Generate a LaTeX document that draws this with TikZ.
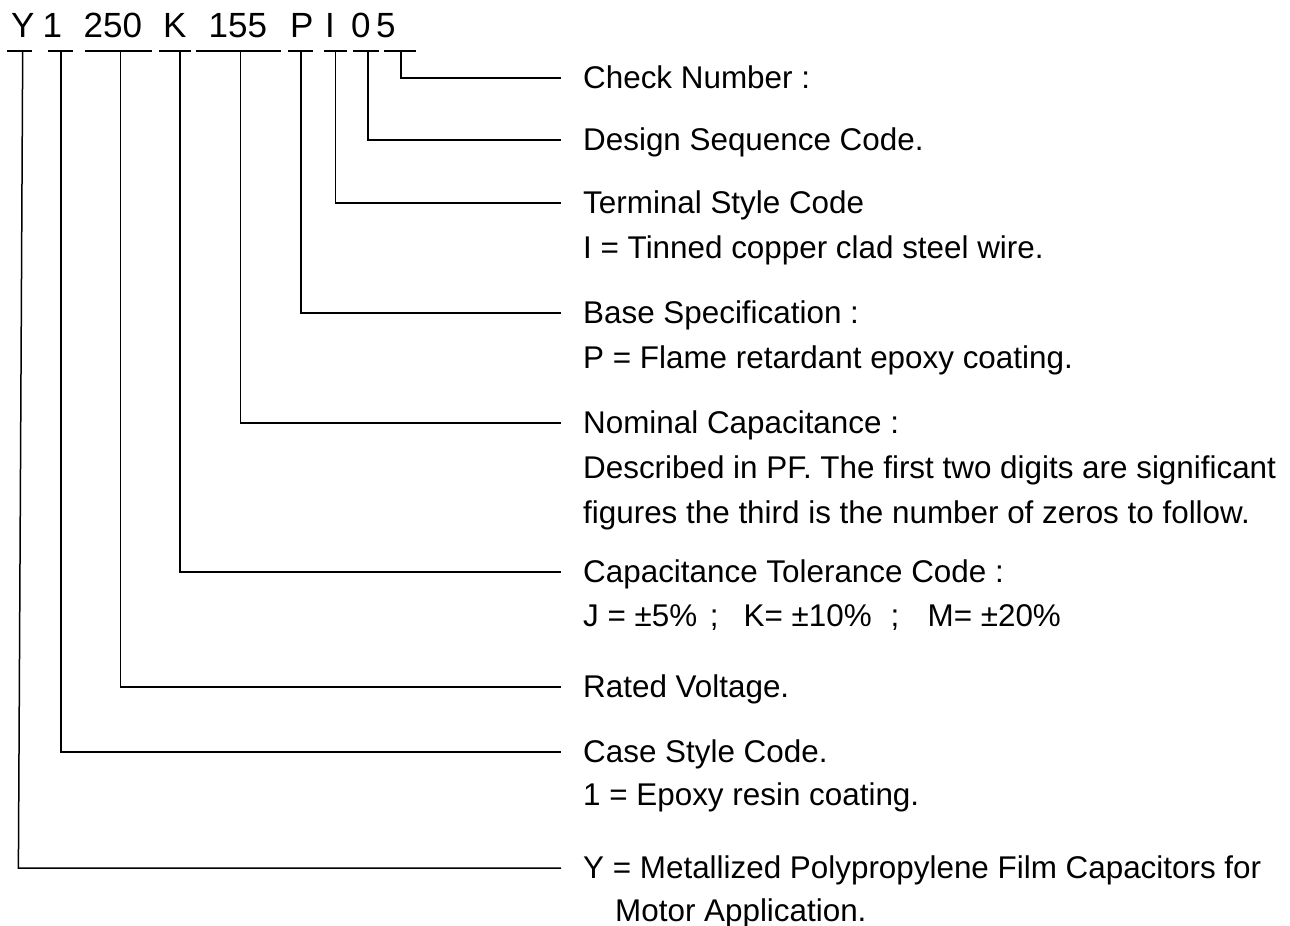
\documentclass[tikz,border=0pt]{standalone}
\usepackage{fontspec}
\setmainfont{Liberation Sans}
\begin{document}
\begin{tikzpicture}[x=1pt,y=-1pt,
  ln/.style={line width=1.5pt,line cap=butt},
  hd/.style={inner sep=0pt,anchor=base west,font=\fontsize{35}{40}\selectfont},
  lb/.style={inner sep=0pt,anchor=base west,font=\fontsize{31.4}{36}\selectfont}]
\useasboundingbox (0,0) rectangle (1290,926);
% header glyphs
\node[hd] (hY) at (11,37) {Y};
\node[hd] (h1) at (42.5,37) {1};
\node[hd] (h250) at (83.5,37) {250};
\node[hd] (hK) at (163,37) {K};
\node[hd] (h155) at (208.5,37) {155};
\node[hd] (hP) at (290,37) {P};
\node[hd] (hI) at (325,37) {I};
\node[hd] (h0) at (351,37) {0};
\node[hd] (h5) at (376,37) {5};
% underline segments
\foreach \a/\b in {7/32,48/73,85/152,159/191,196/281,288/313,324/347,353/379,384/416}
  \draw[ln] (\a,51) -- (\b,51);
% segment anchor points
\coordinate (sY) at (22.7,51);
\coordinate (s1) at (61,51);
\coordinate (s250) at (120.7,51);
\coordinate (sK) at (180,51);
\coordinate (s155) at (240.7,51);
\coordinate (sP) at (301,51);
\coordinate (sI) at (335.5,51);
\coordinate (s0) at (368,51);
\coordinate (s5) at (401,51);
% line end points
\coordinate (e5) at (561,78);
\coordinate (e0) at (561,140);
\coordinate (eI) at (561,203);
\coordinate (eP) at (561,313);
\coordinate (e155) at (561,423);
\coordinate (eK) at (561,572);
\coordinate (e250) at (561,687);
\coordinate (e1) at (561,752);
\coordinate (eY) at (561,868);
\coordinate (kY) at (18.4,868);
% connectors
\draw[ln] (s5) |- (e5);
\draw[ln] (s0) |- (e0);
\draw[ln] (sI) |- (eI);
\draw[ln] (sP) |- (eP);
\draw[ln] (s155) |- (e155);
\draw[ln] (sK) |- (eK);
\draw[ln] (s250) |- (e250);
\draw[ln] (s1) |- (e1);
\draw[ln] (sY) -- (kY) -- (eY);
% labels
\node[lb] (l5) at (583,88) {Check Number :};
\node[lb] (l0) at (583,150) {Design Sequence Code.};
\node[lb] (lI) at (583,213) {Terminal Style Code};
\node[lb] (lIb) at (583,258) {I = Tinned copper clad steel wire.};
\node[lb] (lP) at (583,323) {Base Specification :};
\node[lb] (lPb) at (583,368) {P = Flame retardant epoxy coating.};
\node[lb] (l155) at (583,433) {Nominal Capacitance :};
\node[lb] (l155b) at (583,478) {Described in PF. The first two digits are significant};
\node[lb] (l155c) at (583,523) {figures the third is the number of zeros to follow.};
\node[lb] (lK) at (583,582) {Capacitance Tolerance Code :};
\node[lb] (lKb) at (583,626) {J = ±5\%\hspace{0.4em};\hspace{0.8em}K= ±10\%\hspace{0.6em};\hspace{0.9em}M= ±20\%};
\node[lb] (l250) at (583,697) {Rated Voltage.};
\node[lb] (l1) at (583,762) {Case Style Code.};
\node[lb] (l1b) at (583,805) {1 = Epoxy resin coating.};
\node[lb] (lY) at (583,878) {Y = Metallized Polypropylene Film Capacitors for};
\node[lb] (lYb) at (615,921) {Motor Application.};
\end{tikzpicture}
\end{document}
